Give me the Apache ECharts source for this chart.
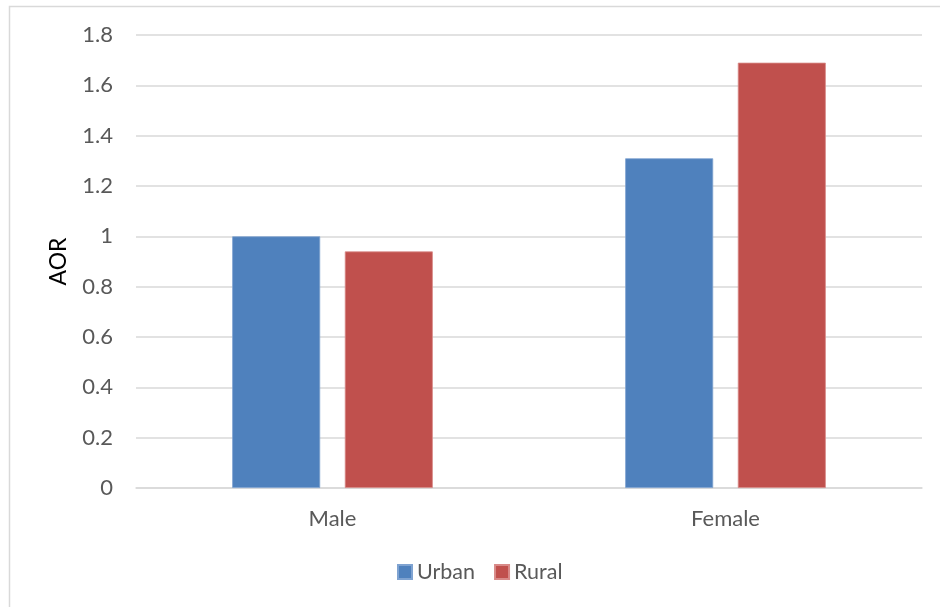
<!DOCTYPE html>
<html>
<head>
<meta charset="utf-8">
<script src="https://cdn.jsdelivr.net/npm/echarts@6/dist/echarts.min.js"></script>
<style>
  html, body { margin: 0; padding: 0; background: #fff; }
  #chart { width: 940px; height: 607px; }
</style>
</head>
<body>
<div id="chart"></div>
<script>
// Adjusted odds ratios by sex and residence
const categories = ['Male', 'Female'];
const urbanValues = [1.0, 1.31];
const ruralValues = [0.94, 1.69];
const yTicks = [0, 0.2, 0.4, 0.6, 0.8, 1, 1.2, 1.4, 1.6, 1.8];

const FONT = 'Lato';
const TEXT = '#595959';
const GRID = '#D9D9D9';

const chart = echarts.init(document.getElementById('chart'), null, { renderer: 'canvas' });

chart.setOption({
  animation: false,
  backgroundColor: '#ffffff',
  textStyle: { fontFamily: FONT },
  graphic: [{
    type: 'rect',
    shape: { x: 9.5, y: 6.5, width: 1000, height: 700 },
    style: { fill: 'none', stroke: GRID, lineWidth: 1.5 },
    silent: true,
    z: -1
  }],
  grid: { left: 136, right: 18, top: 35, bottom: 119, containLabel: false },
  legend: {
    data: ['Urban', 'Rural'],
    bottom: 19,
    left: 392,
    itemWidth: 14,
    itemHeight: 14,
    itemGap: 19,
    icon: 'rect',
    textStyle: { color: TEXT, fontSize: 21.5, fontFamily: FONT, padding: [0, 0, 0, 0] }
  },
  xAxis: {
    type: 'category',
    data: categories,
    axisLine: { show: true, lineStyle: { color: GRID, width: 1.5 } },
    axisTick: { show: false },
    axisLabel: { color: TEXT, fontSize: 22, fontFamily: FONT, margin: 20 }
  },
  yAxis: {
    type: 'value',
    min: 0,
    max: yTicks[yTicks.length - 1],
    interval: 0.2,
    name: 'AOR',
    nameLocation: 'middle',
    nameGap: 66,
    nameRotate: 90,
    nameTextStyle: { color: '#000000', fontSize: 23, fontFamily: FONT },
    axisLine: { show: false },
    axisTick: { show: false },
    splitLine: { lineStyle: { color: GRID, width: 1.5 } },
    axisLabel: {
      color: TEXT, fontSize: 22, fontFamily: FONT, margin: 23,
      formatter: v => String(parseFloat(v.toFixed(1)))
    }
  },
  series: [
    {
      name: 'Urban',
      type: 'bar',
      data: urbanValues,
      barWidth: 88,
      barGap: '28%',
      itemStyle: { color: '#4F81BD', borderColor: '#7FA3D1', borderWidth: 0.8 }
    },
    {
      name: 'Rural',
      type: 'bar',
      data: ruralValues,
      barWidth: 88,
      itemStyle: { color: '#C0504D', borderColor: '#D88A88', borderWidth: 0.8 }
    }
  ]
});
</script>
</body>
</html>
